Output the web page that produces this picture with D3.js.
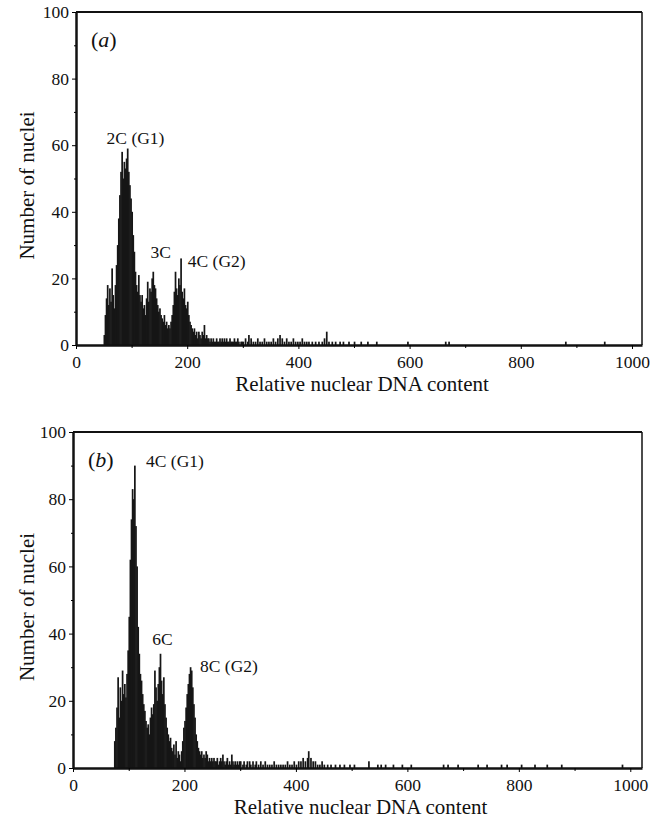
<!DOCTYPE html>
<html>
<head>
<meta charset="utf-8">
<script src="https://d3js.org/d3.v7.min.js"></script>
<style>
  body { margin:0; background:#fff; }
</style>
</head>
<body>
<svg id="chart" width="659" height="820"></svg>
<script>
  // histogram counts, 2-channel bins
  var startA = 50, binA = 2;
  var countsA = [3,9,14,18,12,17,13,23,15,11,18,24,30,38,45,52,58,50,55,53,56,59,52,48,44,40,33,28,22,18,
    16,21,15,13,15,11,12,9,14,19,13,17,16,20,22,18,17,14,12,10,11,9,8,7,9,6,7,5,6,5,
    7,9,12,16,22,17,15,20,18,26,16,14,17,12,11,13,9,7,6,5,4,5,3,4,2,4,3,2,4,3,
    6,2,3,2,2,1,2,1,2,1,1,2,1,1,2,1,2,1,2,1,2,1,1,2,1,1,1,2,1,1,2,1,0,1,1];
  // sparse tail, [channel, count]
  var tailA = [[300,1],[304,2],[308,1],[310,3],[314,2],[318,1],[322,1],[326,2],[330,1],[334,1],[338,2],[342,1],
    [346,1],[350,1],[354,2],[358,1],[362,2],[366,3],[370,2],[374,1],[378,2],[382,1],[386,1],[390,2],[394,1],
    [398,1],[402,1],[406,2],[410,1],[414,1],[418,1],[424,1],[430,1],[436,1],[442,1],[446,2],[450,4],[454,1],
    [460,1],[466,1],[474,1],[480,1],[490,1],[500,1],[512,1],[524,1],[540,1],[596,1],[664,1],[670,1],[880,1],[950,1]];

  var startB = 72, binB = 2;
  var countsB = [0,8,12,18,27,15,24,20,29,22,25,21,28,35,45,62,74,83,80,90,72,60,42,34,28,26,22,19,17,14,
    12,13,10,15,18,16,19,29,24,20,25,30,34,26,22,27,19,15,12,10,8,9,6,5,7,4,8,3,5,4,
    2,5,8,12,14,18,22,25,28,30,29,24,19,15,10,8,6,5,4,5,3,4,3,5,4,2,3,2,3,2,
    3,2,2,3,1,2,3,2,4,2,1,2,3,1,2,1,4,2,1,2,1,2,1,2];
  var tailB = [[300,2],[304,1],[306,2],[310,1],[312,2],[316,2],[318,1],[322,2],[326,1],[328,2],[332,1],[336,2],
    [340,1],[344,2],[348,1],[352,1],[356,1],[360,2],[364,1],[368,1],[372,1],[376,1],[380,1],[384,2],[388,1],
    [392,1],[396,2],[400,1],[404,2],[408,2],[412,3],[416,2],[420,3],[422,5],[426,3],[430,2],[434,2],[438,1],
    [442,1],[446,2],[450,1],[456,1],[462,1],[470,1],[478,1],[486,1],[496,1],[504,1],[530,2],[546,1],[552,1],
    [560,1],[574,1],[590,1],[606,1],[664,1],[672,1],[690,1],[726,1],[742,1],[768,1],[778,1],[804,1],[828,1],
    [850,1],[876,1],[985,1]];

  var xTicks = [0,200,400,600,800,1000];
  var xMinor = [100,300,500,700,900];
  var yTicks = [0,20,40,60,80,100];
  var yMinor = [10,30,50,70,90];

  var labelsA = [
    {text:"2C (G1)", x:55, y:60.5},
    {text:"3C", x:134, y:26},
    {text:"4C (G2)", x:201, y:23.5}
  ];
  var labelsB = [
    {text:"4C (G1)", x:131, y:89.5},
    {text:"6C", x:142, y:36.5},
    {text:"8C (G2)", x:228, y:28.5}
  ];

  var serif = "Liberation Serif";
  var svg = d3.select("#chart");

  function toBins(counts, start, bin){
    return counts.map(function(c, i){ return {x:start + i*bin, w:bin, v:c}; });
  }

  function drawPanel(cfg){
    var x = d3.scaleLinear().domain([0, cfg.xMax]).range([cfg.left, cfg.right]);
    var y = d3.scaleLinear().domain([0, 100]).range([cfg.bottom, cfg.top]);
    var g = svg.append("g");

    var bars = toBins(cfg.counts, cfg.start, cfg.bin)
      .concat(cfg.tail.map(function(d){ return {x:d[0], w:2, v:d[1]}; }))
      .filter(function(d){ return d.v > 0; });

    // slight overlap so neighbouring bins merge into a solid mass
    g.selectAll("rect.bar").data(bars).enter().append("rect")
      .attr("class", "bar")
      .attr("x", function(d){ return x(d.x) - 0.3; })
      .attr("width", function(d){ return x(d.x + d.w) - x(d.x) + 0.6; })
      .attr("y", function(d){ return y(d.v); })
      .attr("height", function(d){ return y(0) - y(d.v); })
      .attr("fill", "#161616");

    // frame
    g.append("line").attr("x1", cfg.left).attr("x2", cfg.right).attr("y1", cfg.top).attr("y2", cfg.top)
      .attr("stroke", "#111").attr("stroke-width", 2);
    g.append("line").attr("x1", cfg.right).attr("x2", cfg.right).attr("y1", cfg.top).attr("y2", cfg.bottom)
      .attr("stroke", "#111").attr("stroke-width", 1.5);

    // axes
    var xAxis = d3.axisBottom(x).tickValues(xTicks).tickFormat(d3.format("d"))
      .tickSize(4).tickPadding(6.5).tickSizeOuter(0);
    var gx = g.append("g").attr("transform", "translate(0," + cfg.bottom + ")").call(xAxis)
      .attr("font-family", serif).attr("font-size", 17.5);
    gx.select(".domain").attr("stroke-width", 2.5).attr("stroke", "#111");
    gx.selectAll("text").attr("fill", "#111");
    g.append("g").attr("transform", "translate(0," + cfg.bottom + ")")
      .call(d3.axisBottom(x).tickValues(xMinor).tickSize(3).tickFormat("").tickSizeOuter(0))
      .select(".domain").remove();

    var yAxis = d3.axisLeft(y).tickValues(yTicks).tickSize(4).tickPadding(3).tickSizeOuter(0);
    var gy = g.append("g").attr("transform", "translate(" + cfg.left + ",0)").call(yAxis)
      .attr("font-family", serif).attr("font-size", 17.5);
    gy.select(".domain").attr("stroke-width", 2.5).attr("stroke", "#111");
    gy.selectAll("text").attr("fill", "#111");
    g.append("g").attr("transform", "translate(" + cfg.left + ",0)")
      .call(d3.axisLeft(y).tickValues(yMinor).tickSize(2).tickFormat("").tickSizeOuter(0))
      .select(".domain").remove();

    g.append("text")
      .attr("font-family", serif).attr("font-size", 21).attr("fill", "#111")
      .attr("x", (cfg.left + cfg.right) / 2 + 3).attr("y", cfg.bottom + 46)
      .attr("text-anchor", "middle").text("Relative nuclear DNA content");
    g.append("text")
      .attr("font-family", serif).attr("font-size", 21).attr("fill", "#111")
      .attr("transform", "translate(34," + ((cfg.top + cfg.bottom) / 2 + 7) + ") rotate(-90)")
      .attr("text-anchor", "middle").text("Number of nuclei");

    var tag = g.append("text")
      .attr("font-family", serif).attr("font-size", 22).attr("fill", "#111")
      .attr("x", cfg.left + 15).attr("y", cfg.top + 35);
    tag.append("tspan").text("(");
    tag.append("tspan").attr("font-style", "italic").text(cfg.tag);
    tag.append("tspan").text(")");

    g.selectAll("text.peak").data(cfg.labels).enter().append("text")
      .attr("class", "peak")
      .attr("font-family", serif).attr("font-size", 17.5).attr("fill", "#111")
      .attr("x", function(d){ return x(d.x); })
      .attr("y", function(d){ return y(d.y); })
      .text(function(d){ return d.text; });
  }

  drawPanel({left:76, right:642, top:12, bottom:345, xMax:1018,
    counts:countsA, start:startA, bin:binA, tail:tailA, labels:labelsA, tag:"a"});
  drawPanel({left:73, right:642, top:432, bottom:768, xMax:1021,
    counts:countsB, start:startB, bin:binB, tail:tailB, labels:labelsB, tag:"b"});
</script>
</body>
</html>
